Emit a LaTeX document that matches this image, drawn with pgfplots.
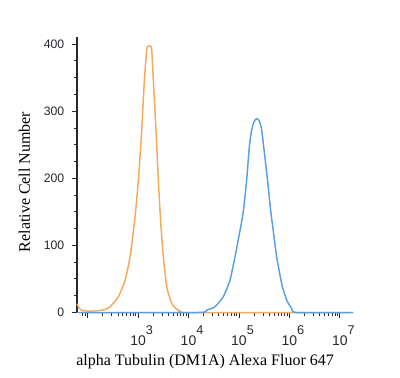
\documentclass[border=0pt]{standalone}
\usepackage{fontspec}
\setmainfont{Liberation Serif}
\newfontfamily\arial{Liberation Sans}
\usepackage{pgfplots}
\pgfplotsset{compat=1.18}
\definecolor{orangec}{RGB}{243,170,92}
\definecolor{bluec}{RGB}{88,160,228}
\definecolor{axc}{RGB}{40,40,45}
\newcommand\dec[1]{10\rlap{\raisebox{0.8em}{\fontsize{9.5}{10}\selectfont #1}}}
\begin{document}
\begin{tikzpicture}
\path[use as bounding box] (-57.75pt,-49.125pt) rectangle (242.25pt,234.375pt);
\begin{axis}[
  at={(0,0)}, anchor=south west,
  scale only axis, width=207pt, height=206.6pt,
  xmin=1.79, xmax=7.26, ymin=0, ymax=410.6,
  axis lines*=left,
  axis line style={axc, line width=1pt, -},
  tick align=outside,
  tick style={axc, line width=0.7pt},
  major tick length=4pt, minor tick length=2.4pt,
  xtick={2,3,4,5,6,7},
  xticklabels={,\dec{3},\dec{4},\dec{5},\dec{6},\dec{7}},
  minor xtick={1.903,1.954,
    2.301,2.477,2.602,2.699,2.778,2.845,2.903,2.954,
    3.301,3.477,3.602,3.699,3.778,3.845,3.903,3.954,
    4.301,4.477,4.602,4.699,4.778,4.845,4.903,4.954,
    5.301,5.477,5.602,5.699,5.778,5.845,5.903,5.954,
    6.301,6.477,6.602,6.699,6.778,6.845,6.903,6.954},
  ytick={0,100,200,300,400},
  yticklabels={0,100,200,300,400},
  minor ytick={25,50,75,125,150,175,225,250,275,325,350,375},
  xticklabel style={font=\arial\fontsize{10.5}{12}\selectfont, text=axc, anchor=base, yshift=-20.6pt},
  yticklabel style={font=\arial\fontsize{9.2}{10}\selectfont, text=axc, xshift=-2pt},
  xlabel={alpha Tubulin (DM1A) Alexa Fluor 647},
  ylabel={Relative Cell Number},
  xlabel style={at={(axis description cs:0.464,-0.1906)}, anchor=base, font=\fontsize{12}{14}\selectfont},
  ylabel style={at={(axis description cs:-0.1703,0.474)}, anchor=base, rotate=0, font=\fontsize{12}{14}\selectfont},
  clip=false,
]
\addplot[orangec, line width=1.1pt, line join=round, smooth, tension=0.3] coordinates {
 (1.79,13) (1.83,7) (1.89,3) (2.05,2) (2.25,3) (2.35,4.5) (2.446,8.6)
 (2.61,23.5) (2.743,48) (2.842,83) (2.941,143) (3.006,197) (3.073,272)
 (3.125,346) (3.172,392) (3.198,397) (3.245,397) (3.271,392) (3.303,346)
 (3.356,272) (3.402,197) (3.45,133) (3.501,83) (3.568,38) (3.667,13.7)
 (3.766,4.8) (3.85,1.5) (3.93,0) (7.26,0)
};
\addplot[bluec, line width=1.1pt, line join=round, smooth, tension=0.3] coordinates {
 (1.79,0) (4.2,0) (4.36,3.5) (4.525,8.6) (4.689,23.5) (4.822,48) (4.921,83)
 (5.02,122) (5.085,150) (5.152,197) (5.204,246) (5.251,272) (5.297,284)
 (5.35,289) (5.402,286) (5.45,272) (5.515,231) (5.58,187) (5.628,152)
 (5.679,122) (5.747,83) (5.846,43) (5.945,18.6) (6.044,6) (6.13,0) (7.26,0)
};
\end{axis}
\end{tikzpicture}
\end{document}
